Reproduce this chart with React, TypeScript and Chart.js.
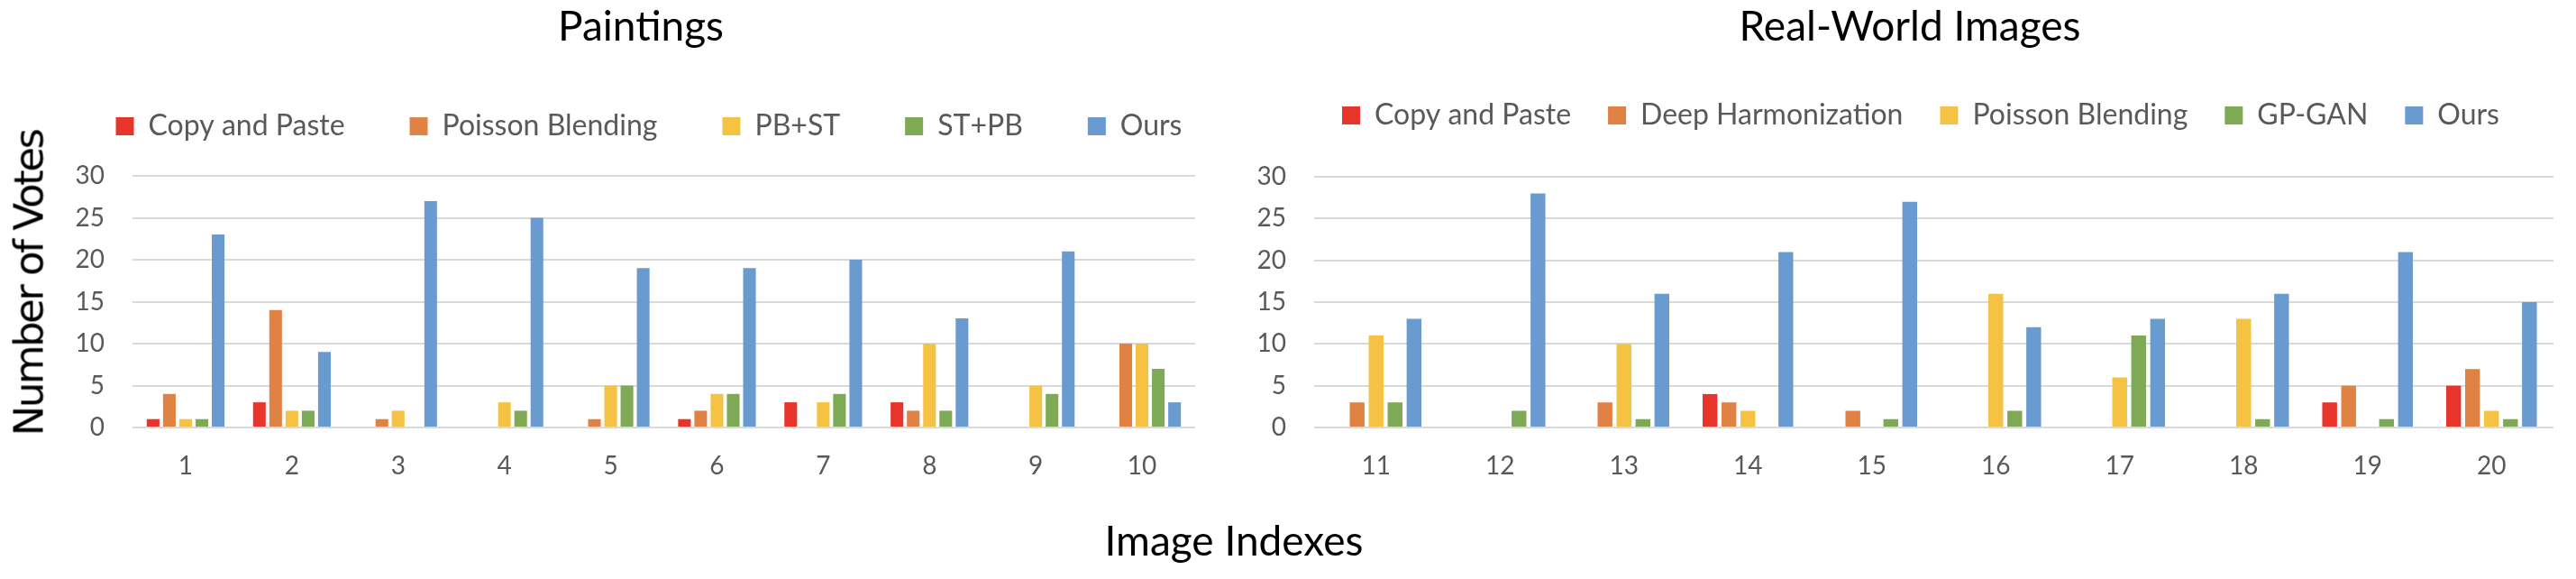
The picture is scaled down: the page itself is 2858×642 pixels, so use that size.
import React, { useEffect, useRef } from 'react';
import { Chart, registerables } from 'chart.js';

Chart.register(...registerables);

// ---------- data ----------
const paintingCategories = ['1', '2', '3', '4', '5', '6', '7', '8', '9', '10'];
const realWorldCategories = ['11', '12', '13', '14', '15', '16', '17', '18', '19', '20'];

const paintingSeriesNames = ['Copy and Paste', 'Poisson Blending', 'PB+ST', 'ST+PB', 'Ours'];
const realWorldSeriesNames = ['Copy and Paste', 'Deep Harmonization', 'Poisson Blending', 'GP-GAN', 'Ours'];

const paintingCopyPaste = [1, 3, 0, 0, 0, 1, 3, 3, 0, 0];
const paintingPoisson = [4, 14, 1, 0, 1, 2, 0, 2, 0, 10];
const paintingPBST = [1, 2, 2, 3, 5, 4, 3, 10, 5, 10];
const paintingSTPB = [1, 2, 0, 2, 5, 4, 4, 2, 4, 7];
const paintingOurs = [23, 9, 27, 25, 19, 19, 20, 13, 21, 3];

const realCopyPaste = [0, 0, 0, 4, 0, 0, 0, 0, 3, 5];
const realDeepHarmonization = [3, 0, 3, 3, 2, 0, 0, 0, 5, 7];
const realPoisson = [11, 0, 10, 2, 0, 16, 6, 13, 0, 2];
const realGPGAN = [3, 2, 1, 0, 1, 2, 11, 1, 1, 1];
const realOurs = [13, 28, 16, 21, 27, 12, 13, 16, 21, 15];

const yMin = 0;
const yMax = 30;
const yStep = 5;

const seriesColors = ['#E8352B', '#E08244', '#F5C243', '#7EAA55', '#6A9BD0'];

const FONT = 'Lato';
const TEXT_GRAY = '#595959';

function panelPlugin(legendHeight: number, titleCenter: number, legendCenter: number) {
  return {
    id: 'panelFix',
    beforeInit(chart: any) {
      const legend = chart.legend;
      if (!legend) return;
      const orig = legend.fit;
      legend.fit = function () {
        this.maxWidth = 5000;
        orig.call(this);
        this.height = legendHeight;
      };
    },
    afterLayout(chart: any) {
      const t = chart.titleBlock;
      if (t) {
        t.left = titleCenter - 1000;
        t.right = titleCenter + 1000;
      }
      const l = chart.legend;
      if (l) {
        l.left = legendCenter - 1200;
        l.right = legendCenter + 1200;
      }
    },
  };
}

interface PanelProps {
  left: number;
  width: number;
  title: string;
  labels: string[];
  names: string[];
  values: number[][];
  padR: number;
  yAxisWidth: number;
  titleBottom: number;
  legendPadding: number;
  legendHeight: number;
  titleCenter: number;
  legendCenter: number;
}

function Panel(p: PanelProps) {
  const ref = useRef<HTMLCanvasElement | null>(null);
  useEffect(() => {
    if (!ref.current) return;
    const chart = new Chart(ref.current, {
      type: 'bar',
      data: {
        labels: p.labels,
        datasets: p.names.map((n, i) => ({
          label: n,
          data: p.values[i],
          backgroundColor: seriesColors[i],
          borderWidth: 0,
          categoryPercentage: 0.765,
          barPercentage: 0.78,
        })),
      },
      options: {
        responsive: false,
        animation: false,
        layout: { padding: { left: 0, right: p.padR, top: 0, bottom: 0 } },
        plugins: {
          title: {
            display: true,
            text: p.title,
            color: '#000000',
            font: { family: FONT, size: 46, weight: 'normal', lineHeight: '40px' },
            padding: { top: 10, bottom: p.titleBottom },
          },
          legend: {
            display: true,
            position: 'top',
            labels: {
              boxWidth: 20,
              boxHeight: 20,
              padding: p.legendPadding,
              color: TEXT_GRAY,
              font: { family: FONT, size: 32 },
            },
          },
          tooltip: { enabled: false },
        },
        scales: {
          x: {
            grid: { display: false, drawTicks: false },
            border: { display: false },
            ticks: {
              color: TEXT_GRAY,
              font: { family: FONT, size: 28 },
              padding: 26,
              maxRotation: 0,
              autoSkip: false,
            },
            afterFit: (s: any) => {
              s.height = 168;
            },
          },
          y: {
            min: yMin,
            max: yMax,
            ticks: {
              stepSize: yStep,
              color: TEXT_GRAY,
              font: { family: FONT, size: 28 },
              padding: 31,
            },
            grid: { color: '#D9D9D9', lineWidth: 2, drawTicks: false },
            border: { display: false },
            afterFit: (s: any) => {
              s.width = p.yAxisWidth;
            },
          },
        },
      } as any,
      plugins: [panelPlugin(p.legendHeight, p.titleCenter, p.legendCenter) as any],
    });
    return () => chart.destroy();
  }, []);
  return (
    <canvas
      ref={ref}
      width={p.width}
      height={642}
      style={{ position: 'absolute', left: p.left, top: 0, width: p.width, height: 642 }}
    />
  );
}

export default function App() {
  return (
    <div
      style={{
        position: 'absolute',
        left: 0,
        top: 0,
        width: 2858,
        height: 642,
        background: '#ffffff',
        overflow: 'hidden',
      }}
    >
      <Panel
        left={0}
        width={1422}
        title="Paintings"
        labels={paintingCategories}
        names={paintingSeriesNames}
        values={[paintingCopyPaste, paintingPoisson, paintingPBST, paintingSTPB, paintingOurs]}
        padR={96}
        yAxisWidth={147}
        titleBottom={2}
        legendPadding={72}
        legendHeight={143}
        titleCenter={711}
        legendCenter={720}
      />
      <Panel
        left={1380}
        width={1478}
        title="Real-World Images"
        labels={realWorldCategories}
        names={realWorldSeriesNames}
        values={[realCopyPaste, realDeepHarmonization, realPoisson, realGPGAN, realOurs]}
        padR={25}
        yAxisWidth={78}
        titleBottom={21}
        legendPadding={41}
        legendHeight={125}
        titleCenter={739}
        legendCenter={751}
      />
      <div
        style={{
          position: 'absolute',
          left: 32,
          top: 314,
          transform: 'translate(-50%, -50%) rotate(-90deg)',
          whiteSpace: 'nowrap',
          fontFamily: '"DejaVu Sans", sans-serif',
          fontSize: 45,
          letterSpacing: '-2.5px',
          lineHeight: 1,
          color: '#000000',
        }}
      >
        Number of Votes
      </div>
      <div
        style={{
          position: 'absolute',
          left: 1369,
          top: 576,
          transform: 'translateX(-50%)',
          whiteSpace: 'nowrap',
          fontFamily: 'Lato, sans-serif',
          fontSize: 46,
          lineHeight: 1,
          color: '#000000',
        }}
      >
        Image Indexes
      </div>
    </div>
  );
}
